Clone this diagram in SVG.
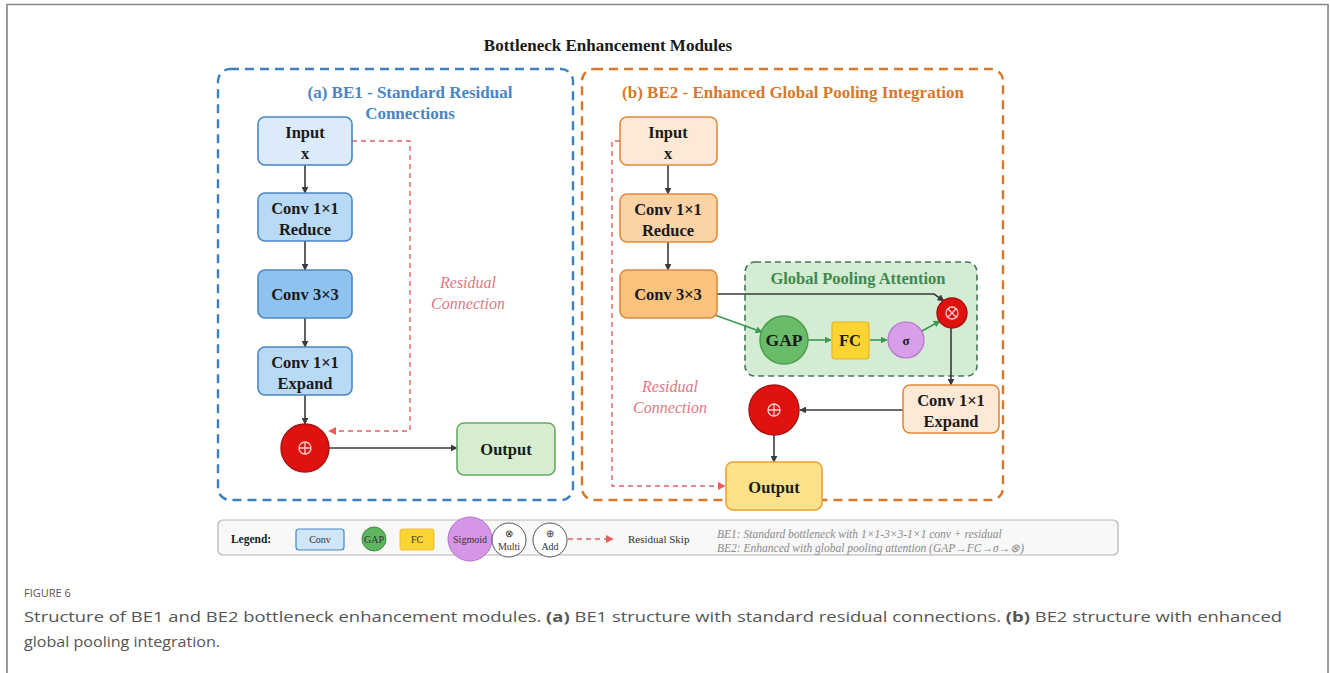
<svg xmlns="http://www.w3.org/2000/svg" width="1330" height="673" viewBox="0 0 1330 673">
  <defs>
    <style>
      .t { font-family: "Liberation Serif", "Times New Roman", serif; font-weight: bold; fill: #1a1a1a; text-anchor: middle; }
      .nd { font-size: 16.5px; }
      .blue-a { fill: #dcebf9; stroke: #4a86c5; stroke-width: 1.6; }
      .blue-b { fill: #b9daf5; stroke: #4a86c5; stroke-width: 1.6; }
      .blue-c { fill: #8ec3ef; stroke: #4a86c5; stroke-width: 1.6; }
      .org-a { fill: #fde9d6; stroke: #e08a3c; stroke-width: 1.6; }
      .org-b { fill: #fcd3a6; stroke: #e08a3c; stroke-width: 1.6; }
      .org-c { fill: #fbc27e; stroke: #e08a3c; stroke-width: 1.6; }
      .add { fill: #e0120f; stroke: #a80f0f; stroke-width: 1.4; }
      .sym { stroke: #ffd0d0; stroke-width: 1.3; fill: none; }
      .flow { stroke: #3a3a3a; stroke-width: 1.6; fill: none; marker-end: url(#ah); }
      .gflow { stroke: #3c9a4f; stroke-width: 1.6; fill: none; marker-end: url(#ahg); }
      .res { stroke: #e0616b; stroke-width: 1.4; fill: none; stroke-dasharray: 5 4; marker-end: url(#ahr); }
      .resl { font-family: "Liberation Serif", "Times New Roman", serif; font-style: italic; font-size: 16px; fill: #e07882; text-anchor: middle; }
      .lg { font-family: "Liberation Serif", "Times New Roman", serif; font-size: 10px; fill: #333; text-anchor: middle; }
      .note { font-family: "Liberation Serif", "Times New Roman", serif; font-style: italic; font-size: 11.5px; fill: #8a8a8a; }
      .cap { font-family: "Open Sans", "Liberation Sans", sans-serif; fill: #555; }
    </style>
    <marker id="ah" viewBox="0 0 10 10" refX="9" refY="5" markerWidth="7" markerHeight="7" orient="auto" markerUnits="userSpaceOnUse">
      <path d="M0,0 L10,5 L0,10 z" fill="#3a3a3a"/>
    </marker>
    <marker id="ahg" viewBox="0 0 10 10" refX="9" refY="5" markerWidth="7" markerHeight="7" orient="auto" markerUnits="userSpaceOnUse">
      <path d="M0,0 L10,5 L0,10 z" fill="#3c9a4f"/>
    </marker>
    <marker id="ahr" viewBox="0 0 10 10" refX="9" refY="5" markerWidth="8" markerHeight="8" orient="auto" markerUnits="userSpaceOnUse">
      <path d="M0,0 L10,5 L0,10 z" fill="#ef5a5a"/>
    </marker>
  </defs>

  <rect width="1330" height="673" fill="#ffffff"/>
  <!-- page frame -->
  <path d="M7,673 L7,4.5 L1328,4.5 L1328,673" fill="none" stroke="#858585" stroke-width="1.6"/>

  <text x="608" y="51" class="t" font-size="17">Bottleneck Enhancement Modules</text>

  <!-- panel (a) -->
  <g id="panel-be1">
    <rect x="218" y="69" width="355" height="431" rx="12" fill="none" stroke="#3d7fc0" stroke-width="2.4" stroke-dasharray="9 6"/>
    <text x="410" y="98" class="t" font-size="17" style="fill:#4a86c5">(a) BE1 - Standard Residual</text>
    <text x="410" y="119" class="t" font-size="17" style="fill:#4a86c5">Connections</text>
  </g>

  <!-- panel (b) -->
  <g id="panel-be2">
    <rect x="582" y="69" width="421" height="431" rx="12" fill="none" stroke="#d9772b" stroke-width="2.4" stroke-dasharray="9 6"/>
    <text x="793" y="98" class="t" font-size="17" style="fill:#d9772b">(b) BE2 - Enhanced Global Pooling Integration</text>
  </g>

  <g id="attention-block">
    <rect x="745" y="262" width="232" height="114" rx="10" fill="#d4ebd4" stroke="#3f7a55" stroke-width="1.6" stroke-dasharray="6 4"/>
    <text x="858" y="284" class="t" font-size="16.5" style="fill:#3d8a50">Global Pooling Attention</text>
  </g>

  <!-- connectors -->
  <g id="connectors">
    <line x1="305" y1="165" x2="305" y2="193" class="flow"/>
    <line x1="305" y1="241" x2="305" y2="270" class="flow"/>
    <line x1="305" y1="318" x2="305" y2="347" class="flow"/>
    <line x1="305" y1="395" x2="305" y2="424" class="flow"/>
    <line x1="329" y1="448" x2="457" y2="448" class="flow"/>
    <path d="M352,141 L410,141 L410,431 L329,431" class="res"/>

    <line x1="668" y1="165" x2="668" y2="194" class="flow"/>
    <line x1="668" y1="242" x2="668" y2="270" class="flow"/>
    <path d="M717,294 L934,294 L944,301" class="flow"/>
    <line x1="712" y1="314" x2="762" y2="332" class="gflow"/>
    <line x1="808" y1="340" x2="831" y2="340" class="gflow"/>
    <line x1="870" y1="340" x2="887" y2="340" class="gflow"/>
    <line x1="922" y1="331" x2="940" y2="321" class="gflow"/>
    <line x1="951" y1="328" x2="951" y2="385" class="flow"/>
    <line x1="903" y1="410" x2="800" y2="410" class="flow"/>
    <line x1="774" y1="435" x2="774" y2="462" class="flow"/>
    <path d="M620,141 L612,141 L612,486 L725,486" class="res"/>
  </g>

  <text x="468" y="288" class="resl">Residual</text>
  <text x="468" y="309" class="resl">Connection</text>
  <text x="670" y="392" class="resl">Residual</text>
  <text x="670" y="413" class="resl">Connection</text>

  <!-- BE1 nodes -->
  <g id="be1-input">
    <rect x="258" y="117" width="94" height="48" rx="7" class="blue-a"/>
    <text x="305" y="138" class="t nd">Input</text>
    <text x="305" y="159" class="t nd">x</text>
  </g>
  <g id="be1-reduce">
    <rect x="258" y="193" width="94" height="48" rx="7" class="blue-b"/>
    <text x="305" y="214" class="t nd">Conv 1×1</text>
    <text x="305" y="235" class="t nd">Reduce</text>
  </g>
  <g id="be1-conv3">
    <rect x="258" y="270" width="94" height="48" rx="7" class="blue-c"/>
    <text x="305" y="300" class="t nd">Conv 3×3</text>
  </g>
  <g id="be1-expand">
    <rect x="258" y="347" width="94" height="48" rx="7" class="blue-b"/>
    <text x="305" y="368" class="t nd">Conv 1×1</text>
    <text x="305" y="389" class="t nd">Expand</text>
  </g>
  <g id="be1-add">
    <circle cx="305" cy="448" r="24" class="add"/>
    <circle cx="305" cy="448" r="6" class="sym"/>
    <path d="M299,448 H311 M305,442 V454" class="sym"/>
  </g>
  <g id="be1-output">
    <rect x="457" y="423" width="98" height="52" rx="7" fill="#d6edd2" stroke="#6aaa64" stroke-width="1.6"/>
    <text x="506" y="455" class="t nd">Output</text>
  </g>

  <!-- BE2 nodes -->
  <g id="be2-input">
    <rect x="620" y="117" width="97" height="48" rx="7" class="org-a"/>
    <text x="668" y="138" class="t nd">Input</text>
    <text x="668" y="159" class="t nd">x</text>
  </g>
  <g id="be2-reduce">
    <rect x="620" y="194" width="97" height="48" rx="7" class="org-b"/>
    <text x="668" y="215" class="t nd">Conv 1×1</text>
    <text x="668" y="236" class="t nd">Reduce</text>
  </g>
  <g id="be2-conv3">
    <rect x="620" y="270" width="97" height="48" rx="7" class="org-c"/>
    <text x="668" y="300" class="t nd">Conv 3×3</text>
  </g>
  <g id="gap">
    <circle cx="784" cy="340" r="24" fill="#69bc69" stroke="#4a9a4a" stroke-width="1.4"/>
    <text x="784" y="346" class="t" font-size="17.5">GAP</text>
  </g>
  <g id="fc">
    <rect x="832" y="322" width="37" height="37" rx="3" fill="#fbd432" stroke="#e6b42a" stroke-width="1.2"/>
    <text x="850" y="346" class="t" font-size="16.5">FC</text>
  </g>
  <g id="sigma">
    <circle cx="906" cy="340" r="18" fill="#d89ee8" stroke="#b374cc" stroke-width="1.2"/>
    <text x="906" y="345" class="t" font-size="13">σ</text>
  </g>
  <g id="multiply">
    <circle cx="952" cy="313" r="15" class="add"/>
    <circle cx="952" cy="313" r="6" class="sym"/>
    <path d="M947.8,308.8 L956.2,317.2 M956.2,308.8 L947.8,317.2" class="sym"/>
  </g>
  <g id="be2-expand">
    <rect x="903" y="385" width="96" height="48" rx="7" class="org-a"/>
    <text x="951" y="406" class="t nd">Conv 1×1</text>
    <text x="951" y="427" class="t nd">Expand</text>
  </g>
  <g id="be2-add">
    <circle cx="774" cy="410" r="25" class="add"/>
    <circle cx="774" cy="410" r="6" class="sym"/>
    <path d="M768,410 H780 M774,404 V416" class="sym"/>
  </g>
  <g id="be2-output">
    <rect x="726" y="462" width="96" height="48" rx="7" fill="#fde28a" stroke="#e8a03a" stroke-width="1.6"/>
    <text x="774" y="493" class="t nd">Output</text>
  </g>

  <!-- legend -->
  <g id="legend">
    <rect x="218" y="520" width="900" height="35" rx="5" fill="#f8f8f8" stroke="#b5b5b5" stroke-width="1.2"/>
    <text x="251" y="543" class="t" font-size="11.5">Legend:</text>
    <rect x="296" y="529" width="48" height="21" rx="3" fill="#cfe5f8" stroke="#4a86c5" stroke-width="1.2"/>
    <text x="320" y="543" class="lg">Conv</text>
    <circle cx="374" cy="539" r="12" fill="#5fb55f" stroke="#3f8f3f" stroke-width="1"/>
    <text x="374" y="543" class="lg">GAP</text>
    <rect x="400" y="529" width="34" height="21" rx="2" fill="#fbd437" stroke="#e6b42a" stroke-width="0.8"/>
    <text x="417" y="543" class="lg">FC</text>
    <circle cx="470" cy="539" r="22" fill="#d696e8" stroke="#b374cc" stroke-width="1"/>
    <text x="470" y="543" class="lg">Sigmoid</text>
    <circle cx="509" cy="540" r="17" fill="#ffffff" stroke="#555" stroke-width="1"/>
    <text x="509" y="537" class="lg">⊗</text>
    <text x="509" y="550" class="lg">Multi</text>
    <circle cx="550" cy="540" r="17" fill="#ffffff" stroke="#555" stroke-width="1"/>
    <text x="550" y="537" class="lg">⊕</text>
    <text x="550" y="550" class="lg">Add</text>
    <line x1="568" y1="539" x2="613" y2="539" class="res" stroke-width="1.8"/>
    <text x="628" y="543" class="lg" style="text-anchor:start;font-size:11px">Residual Skip</text>
    <text x="717" y="538" class="note">BE1: Standard bottleneck with 1×1-3×3-1×1 conv + residual</text>
    <text x="717" y="552" class="note">BE2: Enhanced with global pooling attention (GAP→FC→σ→⊗)</text>
  </g>

  <!-- caption -->
  <text x="24" y="597" class="cap" font-size="11">FIGURE 6</text>
  <text x="24" y="622" class="cap" font-size="15" textLength="1258" lengthAdjust="spacingAndGlyphs">Structure of BE1 and BE2 bottleneck enhancement modules. <tspan font-weight="bold">(a)</tspan> BE1 structure with standard residual connections. <tspan font-weight="bold">(b)</tspan> BE2 structure with enhanced</text>
  <text x="24" y="647" class="cap" font-size="15" textLength="196" lengthAdjust="spacingAndGlyphs">global pooling integration.</text>
</svg>
